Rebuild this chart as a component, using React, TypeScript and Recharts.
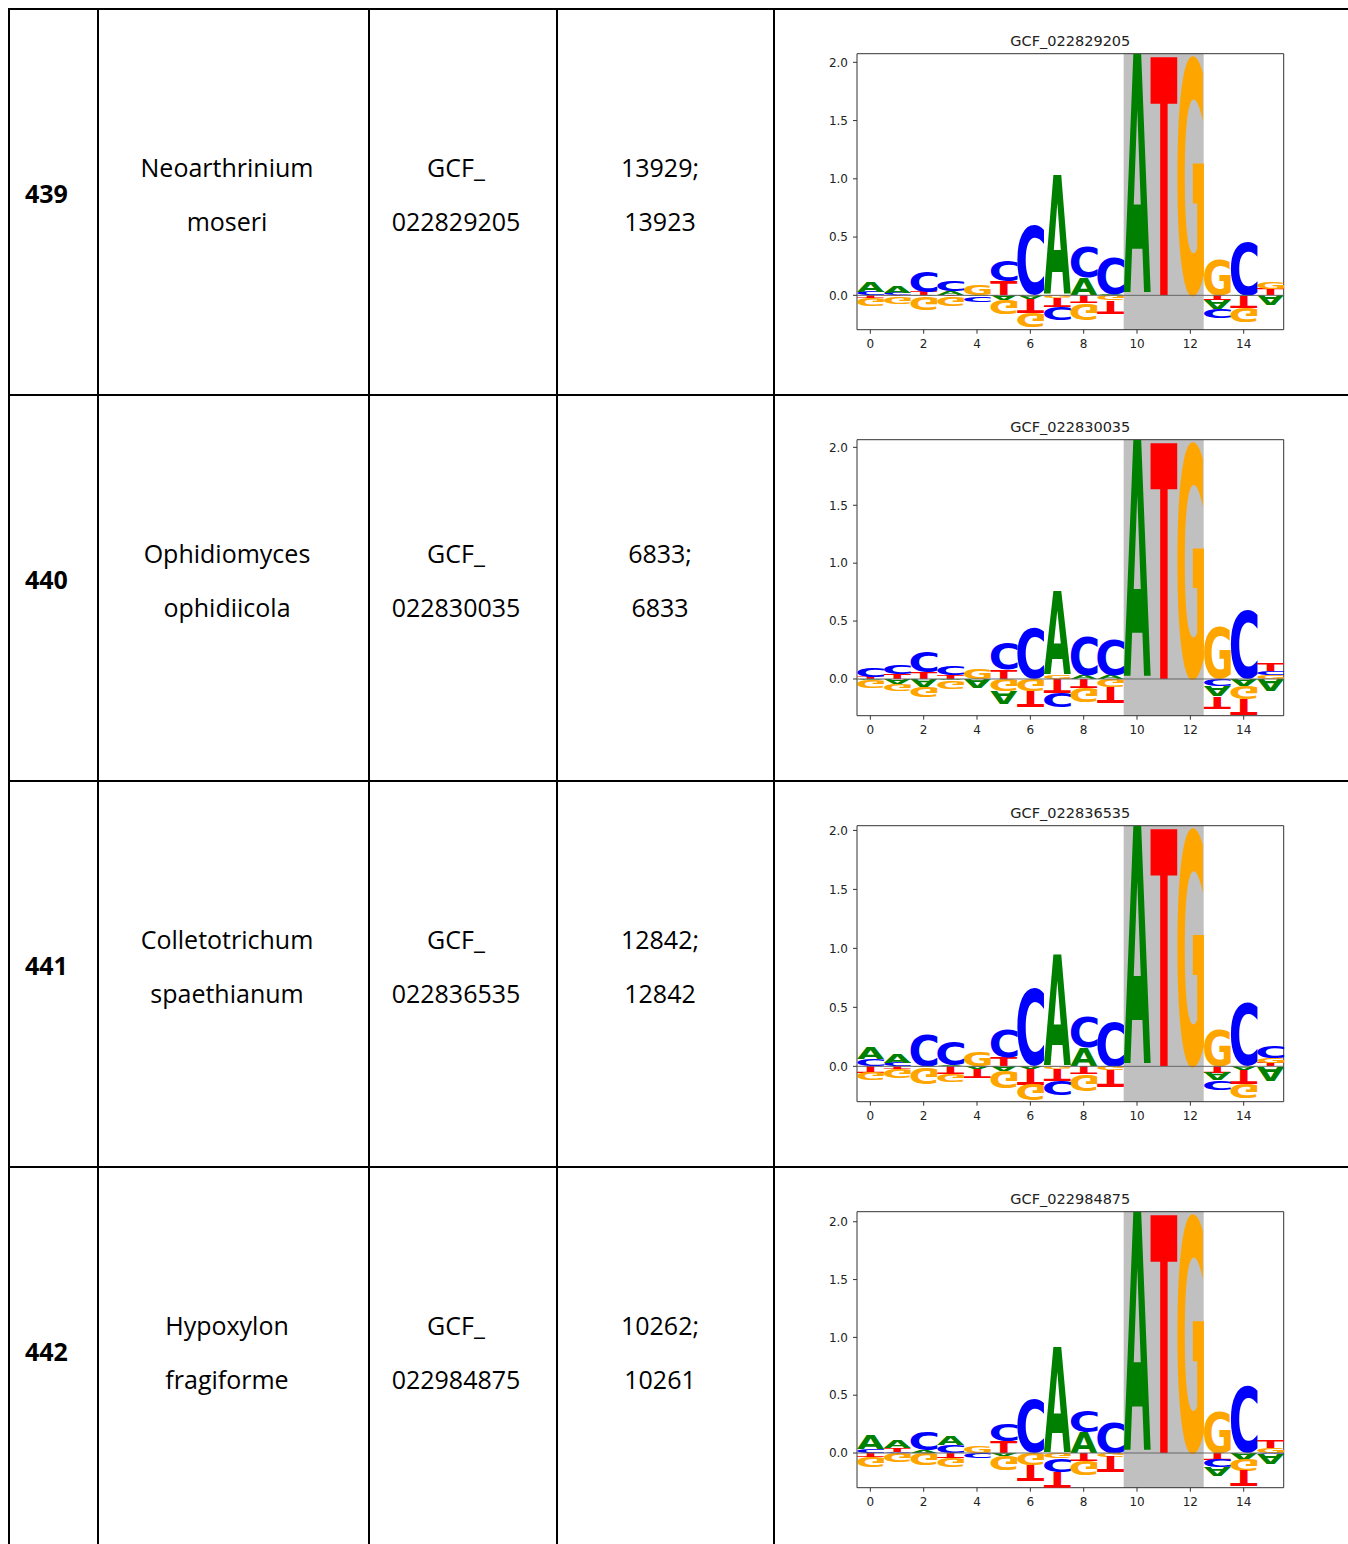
import React from 'react';
import { ComposedChart, Bar, XAxis, YAxis, ReferenceArea, ReferenceLine } from 'recharts';

// ---------- table content ----------
const rowIds = ['439', '440', '441', '442'];
const speciesLine1 = ['Neoarthrinium', 'Ophidiomyces', 'Colletotrichum', 'Hypoxylon'];
const speciesLine2 = ['moseri', 'ophidiicola', 'spaethianum', 'fragiforme'];
const accessionPrefix = 'GCF_';
const accessionNumbers = ['022829205', '022830035', '022836535', '022984875'];
const countsLine1 = ['13929;', '6833;', '12842;', '10262;'];
const countsLine2 = ['13923', '6833', '12842', '10261'];
const chartTitles = ['GCF_022829205', 'GCF_022830035', 'GCF_022836535', 'GCF_022984875'];

// ---------- logo data (positions 0..15) ----------
const positions = [0, 1, 2, 3, 4, 5, 6, 7, 8, 9, 10, 11, 12, 13, 14, 15];
const yTicks = [0, 0.5, 1, 1.5, 2];
const yLimits = [
  [-0.295, 2.074],
  [-0.317, 2.066],
  [-0.3, 2.04],
  [-0.3, 2.087],
];
const highlightRange = [10, 12];

const logo439A = [0.09, 0.06, -0.01, 0.035, -0.015, -0.04, -0.03, 1.03, 0.15, 0.01, 2.074, 0, 0, -0.08, -0.01, -0.09];
const logo439C = [0.03, 0.02, 0.17, 0.09, -0.05, 0.17, 0.6, -0.12, 0.27, 0.33, 0, 0, 0, -0.085, 0.46, 0];
const logo439G = [-0.065, -0.06, -0.12, -0.08, 0.09, -0.13, -0.13, -0.02, -0.14, -0.05, 0, 0, 2.074, 0.31, -0.13, 0.06];
const logo439T = [-0.025, -0.01, 0.03, -0.015, 0, 0.12, -0.12, -0.08, -0.07, -0.11, 0, 2.074, 0, -0.04, -0.1, 0.055];

const logo440A = [-0.01, -0.04, -0.07, -0.015, -0.08, -0.11, 0, 0.73, 0.03, 0.03, 2.066, 0, 0, -0.095, -0.06, -0.1];
const logo440C = [0.08, 0.075, 0.18, 0.08, 0, 0.23, 0.44, -0.13, 0.34, 0.31, 0, 0, 0, -0.06, 0.6, 0.035];
const logo440G = [-0.07, -0.06, -0.09, -0.07, 0.09, -0.1, -0.1, 0.03, -0.13, -0.07, 0, 0, 2.066, 0.46, -0.11, 0.03];
const logo440T = [0.02, 0.045, 0.06, 0.03, 0, 0.08, -0.13, -0.12, -0.08, -0.13, 0, 2.066, 0, -0.1, -0.13, 0.07];

const logo441A = [0.1, 0.08, -0.01, 0.01, -0.02, -0.04, -0.02, 0.95, 0.16, 0, 2.04, 0, 0, -0.07, -0.03, -0.12];
const logo441C = [0.06, 0.03, 0.27, 0.21, 0, 0.24, 0.67, -0.13, 0.26, 0.38, 0, 0, 0, -0.08, 0.54, 0.1];
const logo441G = [-0.07, -0.08, -0.14, -0.07, 0.12, -0.15, -0.14, -0.02, -0.14, -0.03, 0, 0, 2.04, 0.32, -0.13, 0.04];
const logo441T = [-0.05, -0.02, 0, -0.065, -0.08, 0.08, -0.13, -0.1, -0.07, -0.14, 0, 2.04, 0, -0.05, -0.12, 0.03];

const logo442A = [0.12, 0.07, 0.02, 0.08, 0, -0.02, 0, 0.92, 0.18, 0, 2.087, 0, 0, -0.08, -0.05, -0.09];
const logo442C = [0.03, 0.01, 0.16, 0.07, -0.045, 0.15, 0.47, -0.11, 0.19, 0.27, 0, 0, 0, -0.07, 0.59, -0.01];
const logo442G = [-0.09, -0.08, -0.1, -0.08, 0.055, -0.13, -0.1, -0.05, -0.13, -0.03, 0, 0, 2.087, 0.36, -0.1, 0.04];
const logo442T = [-0.03, 0.035, 0, -0.04, 0, 0.1, -0.13, -0.14, -0.07, -0.14, 0, 2.087, 0, -0.05, -0.13, 0.07];

const logoSets = [
  { A: logo439A, C: logo439C, G: logo439G, T: logo439T },
  { A: logo440A, C: logo440C, G: logo440G, T: logo440T },
  { A: logo441A, C: logo441C, G: logo441G, T: logo441T },
  { A: logo442A, C: logo442C, G: logo442G, T: logo442T },
];

const LETTERS = ['A', 'C', 'G', 'T'];
const COLORS: Record<string, string> = { A: '#008000', C: '#0000ff', G: '#ffa500', T: '#ff0000' };
const SLOTS = [1, 2, 3, 4];

function buildRows(idx: number) {
  const set: any = logoSets[idx];
  return positions.map((p, i) => {
    const row: any = { pos: p };
    const pos = LETTERS.map((L) => ({ L, v: set[L][i] })).filter((e) => e.v > 0).sort((a, b) => a.v - b.v);
    const neg = LETTERS.map((L) => ({ L, v: set[L][i] })).filter((e) => e.v < 0).sort((a, b) => b.v - a.v);
    SLOTS.forEach((s, k) => {
      row['p' + s] = pos[k] ? pos[k].v : 0;
      row['p' + s + 'L'] = pos[k] ? pos[k].L : '';
      row['n' + s] = neg[k] ? neg[k].v : 0;
      row['n' + s + 'L'] = neg[k] ? neg[k].L : '';
    });
    return row;
  });
}

// ---------- glyph rendering ----------
const GLYPH_FONT = 'DejaVu Sans';
const metricsCache: Record<string, { l: number; r: number; a: number; d: number }> = {};
const fallbackMetrics: Record<string, { l: number; r: number; a: number; d: number }> = {
  A: { l: -0.3, r: 77.2, a: 72.9, d: 0 },
  C: { l: -4.3, r: 66.2, a: 74.3, d: 1.4 },
  G: { l: -4.3, r: 74.0, a: 74.3, d: 1.4 },
  T: { l: -0.2, r: 68.2, a: 72.9, d: 0 },
};
function glyphMetrics(ch: string) {
  if (metricsCache[ch]) return metricsCache[ch];
  let res = fallbackMetrics[ch];
  try {
    const c = document.createElement('canvas');
    const ctx = c.getContext('2d');
    if (ctx) {
      ctx.font = `bold 100px "${GLYPH_FONT}"`;
      const m = ctx.measureText(ch);
      if (m.actualBoundingBoxAscent !== undefined && m.actualBoundingBoxAscent > 0) {
        res = {
          l: m.actualBoundingBoxLeft,
          r: m.actualBoundingBoxRight,
          a: m.actualBoundingBoxAscent,
          d: m.actualBoundingBoxDescent,
        };
      }
    }
  } catch (e) {
    // keep fallback
  }
  metricsCache[ch] = res;
  return res;
}

function Glyph(props: any) {
  let { x, y, width, height } = props;
  const { letter, flip } = props;
  if (x == null || y == null || width == null || height == null) return <g />;
  if (height < 0) {
    y += height;
    height = -height;
  }
  if (width < 0) {
    x += width;
    width = -width;
  }
  if (!letter || height < 0.15) return <g />;
  const m = glyphMetrics(letter);
  const sx = width / (m.l + m.r);
  const sy = height / (m.a + m.d);
  const tx = x + m.l * sx;
  const transform = flip
    ? `translate(${tx},${y + height - m.a * sy}) scale(${sx},${-sy})`
    : `translate(${tx},${y + m.a * sy}) scale(${sx},${sy})`;
  return (
    <text
      x={0}
      y={0}
      transform={transform}
      fontFamily={GLYPH_FONT}
      fontWeight="bold"
      fontSize={100}
      fill={COLORS[letter]}
    >
      {letter}
    </text>
  );
}

const tickStyle = { fontSize: 12, fill: '#222', fontFamily: 'DejaVu Sans' };

function LogoChart({ idx }: { idx: number }) {
  const data = buildRows(idx);
  const [lo, hi] = yLimits[idx];
  const bars: any[] = [];
  SLOTS.forEach((s) => {
    bars.push(
      <Bar
        key={'p' + s}
        dataKey={'p' + s}
        stackId="s"
        isAnimationActive={false}
        shape={(p: any) => <Glyph {...p} letter={p.payload ? p.payload['p' + s + 'L'] : ''} flip={false} />}
      />
    );
  });
  SLOTS.forEach((s) => {
    bars.push(
      <Bar
        key={'n' + s}
        dataKey={'n' + s}
        stackId="s"
        isAnimationActive={false}
        shape={(p: any) => <Glyph {...p} letter={p.payload ? p.payload['n' + s + 'L'] : ''} flip={true} />}
      />
    );
  });
  return (
    <div style={{ position: 'absolute', left: 774, top: 8 + 386 * idx, width: 574, height: 386 }}>
      <ComposedChart
        width={574}
        height={386}
        data={data}
        stackOffset="sign"
        barCategoryGap={0}
        barGap={0}
        margin={{ top: 45.7, right: 64.3, bottom: 34.3, left: 43 }}
      >
        <XAxis
          dataKey="pos"
          type="category"
          interval={1}
          height={30}
          tickSize={4}
          tickMargin={6}
          axisLine={false}
          tickLine={{ stroke: '#333' }}
          tick={tickStyle}
        />
        <YAxis
          type="number"
          domain={[lo, hi]}
          allowDataOverflow
          ticks={yTicks}
          tickFormatter={(v: number) => v.toFixed(1)}
          width={40}
          tickSize={4}
          tickMargin={5}
          axisLine={false}
          tickLine={{ stroke: '#333' }}
          tick={tickStyle}
        />
        <ReferenceArea
          x1={highlightRange[0]}
          x2={highlightRange[1]}
          y1={lo}
          y2={hi}
          fill="#c0c0c0"
          fillOpacity={1}
          stroke="none"
        />
        <ReferenceLine y={0} stroke="#666" strokeWidth={1} />
        {bars}
        <ReferenceArea
          x1={positions[0]}
          x2={positions[positions.length - 1]}
          y1={lo}
          y2={hi}
          fill="none"
          fillOpacity={0}
          stroke="#333"
          strokeWidth={1}
          label={{
            value: chartTitles[idx],
            position: 'top',
            offset: 8,
            fill: '#222',
            fontSize: 14.5,
            fontFamily: 'DejaVu Sans',
          }}
        />
      </ComposedChart>
    </div>
  );
}

const textFont = 'Open Sans';

function TableLayer() {
  const vLines = [8, 97, 368, 556, 773];
  const hLines = [8, 394, 780, 1166];
  return (
    <svg width={1348} height={1544} style={{ position: 'absolute', left: 0, top: 0 }}>
      {vLines.map((x) => (
        <rect key={'v' + x} x={x} y={8} width={2} height={1536} fill="#000" />
      ))}
      {hLines.map((y) => (
        <rect key={'h' + y} x={8} y={y} width={1340} height={2} fill="#000" />
      ))}
      {rowIds.map((id, r) => {
        const off = 386 * r;
        return (
          <g key={id} fontFamily={textFont} fontSize={25} fill="#000">
            <text x={25} y={203} fontWeight="bold" transform={`translate(0,${off})`}>
              {id}
            </text>
            <text x={227} y={176.5 + off} textAnchor="middle">
              {speciesLine1[r]}
            </text>
            <text x={227} y={230.5 + off} textAnchor="middle">
              {speciesLine2[r]}
            </text>
            <text x={456} y={176.5 + off} textAnchor="middle">
              {accessionPrefix}
            </text>
            <text x={456} y={230.5 + off} textAnchor="middle">
              {accessionNumbers[r]}
            </text>
            <text x={660} y={176.5 + off} textAnchor="middle">
              {countsLine1[r]}
            </text>
            <text x={660} y={230.5 + off} textAnchor="middle">
              {countsLine2[r]}
            </text>
          </g>
        );
      })}
    </svg>
  );
}

export default function App() {
  return (
    <div
      style={{
        position: 'absolute',
        left: 0,
        top: 0,
        width: 1348,
        height: 1544,
        overflow: 'hidden',
        background: '#fff',
      }}
    >
      <TableLayer />
      {rowIds.map((id, i) => (
        <LogoChart key={id} idx={i} />
      ))}
    </div>
  );
}
